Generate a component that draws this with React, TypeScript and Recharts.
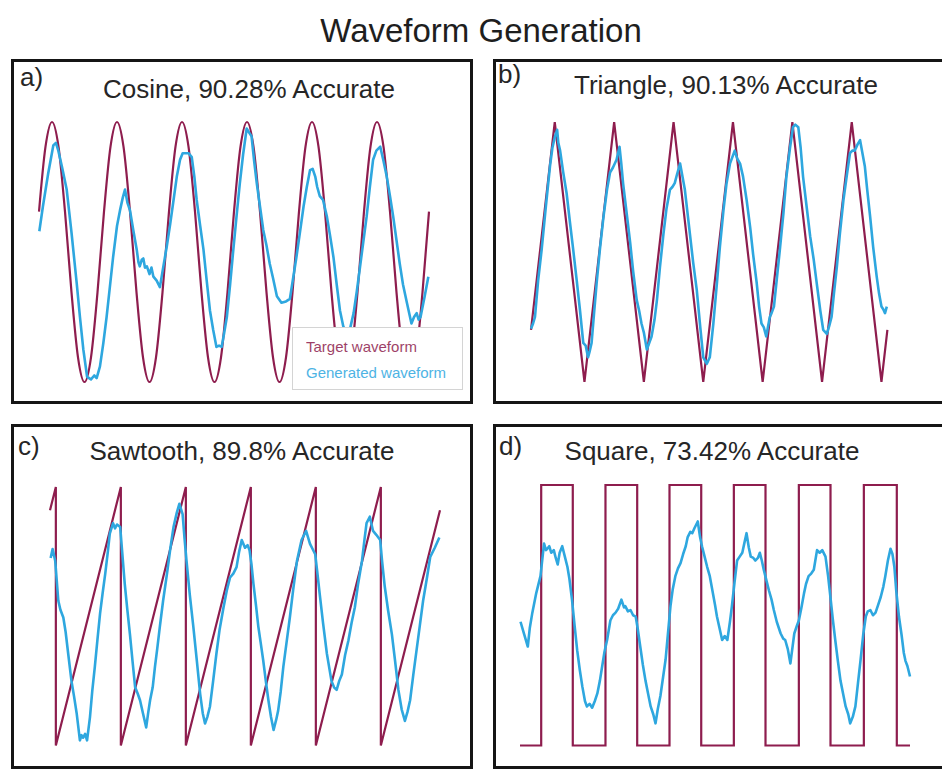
import React from 'react';
import { LineChart, Line, XAxis, YAxis, Legend } from 'recharts';

// ---- colours ----
const TARGET_COLOR = '#8e1d4e';
const GENERATED_COLOR = '#2ea7df';
const FONT = '"Liberation Sans", Arial, Helvetica, sans-serif';

// ---- text ----
const MAIN_TITLE = 'Waveform Generation';
const PANEL_LETTERS = ['a)', 'b)', 'c)', 'd)'];
const PANEL_TITLES = [
  'Cosine, 90.28% Accurate',
  'Triangle, 90.13% Accurate',
  'Sawtooth, 89.8% Accurate',
  'Square, 73.42% Accurate',
];
const SERIES_NAMES = ['Target waveform', 'Generated waveform'];

// ---- a) cosine: target sampled at t = 0..60 (10 samples per period) ----
const COSINE_TARGET = [
  0.31, 0.81, 1, 0.81, 0.31, -0.31, -0.81, -1, -0.81, -0.31,
  0.31, 0.81, 1, 0.81, 0.31, -0.31, -0.81, -1, -0.81, -0.31,
  0.31, 0.81, 1, 0.81, 0.31, -0.31, -0.81, -1, -0.81, -0.31,
  0.31, 0.81, 1, 0.81, 0.31, -0.31, -0.81, -1, -0.81, -0.31,
  0.31, 0.81, 1, 0.81, 0.31, -0.31, -0.81, -1, -0.81, -0.31,
  0.31, 0.81, 1, 0.81, 0.31, -0.31, -0.81, -1, -0.81, -0.31,
  0.31,
];

const COSINE_GENERATED: [number, number][] = [
  [0.05, 0.16], [0.6, 0.35], [1.4, 0.6], [2.2, 0.82], [2.6, 0.84], [2.97, 0.78], [3.6, 0.64],
  [4.26, 0.48], [5.0, 0.15], [5.8, -0.24], [6.3, -0.5], [6.82, -0.75], [7.4, -0.96], [8.0, -0.98],
  [8.5, -0.95], [8.87, -0.97], [9.38, -0.88], [9.9, -0.7], [10.4, -0.5], [10.9, -0.27], [11.4, -0.04],
  [12.0, 0.2], [12.46, 0.32], [12.9, 0.42], [13.23, 0.48], [13.6, 0.38], [14.0, 0.32], [14.5, 0.17],
  [15.03, 0.02], [15.3, -0.08], [15.5, -0.11], [15.8, -0.06], [16.05, -0.05], [16.3, -0.12],
  [16.6, -0.11], [17.0, -0.17], [17.3, -0.12], [17.6, -0.19], [18.1, -0.22], [18.6, -0.27],
  [19.1, -0.12], [19.65, 0.04], [20.2, 0.22], [20.7, 0.4], [21.2, 0.58], [21.7, 0.71], [22.1, 0.76],
  [22.46, 0.76], [23.0, 0.76], [23.5, 0.73], [23.9, 0.58], [24.26, 0.4], [24.8, 0.2], [25.3, 0.02],
  [25.8, -0.22], [26.3, -0.45], [26.8, -0.6], [27.3, -0.73], [27.7, -0.72], [28.1, -0.73],
  [28.5, -0.62], [28.9, -0.5], [29.4, -0.25], [29.9, 0.02], [30.4, 0.28], [30.9, 0.53], [31.4, 0.75],
  [31.95, 0.95], [32.3, 0.92], [32.7, 0.89], [33.1, 0.7], [33.5, 0.53], [34.0, 0.35], [34.5, 0.17],
  [35.0, 0.05], [35.5, -0.09], [36.0, -0.2], [36.6, -0.34], [37.3, -0.39], [38.0, -0.38],
  [38.6, -0.36], [39.1, -0.2], [39.6, -0.04], [40.2, 0.17], [40.7, 0.35], [41.2, 0.5], [41.7, 0.63],
  [42.1, 0.64], [42.5, 0.58], [42.8, 0.5], [43.2, 0.43], [43.7, 0.4], [44.3, 0.27], [44.8, 0.12],
  [45.3, -0.04], [45.8, -0.25], [46.3, -0.45], [46.8, -0.57], [47.3, -0.63], [47.9, -0.58],
  [48.4, -0.47], [48.9, -0.3], [49.4, -0.11], [49.9, 0.08], [50.4, 0.27], [50.9, 0.5], [51.4, 0.71],
  [51.9, 0.78], [52.5, 0.81], [53.0, 0.7], [53.5, 0.58], [54.0, 0.43], [54.5, 0.27], [55.0, 0.09],
  [55.5, -0.09], [56.0, -0.25], [56.6, -0.39], [57.3, -0.55], [57.7, -0.5], [58.1, -0.47],
  [58.4, -0.52], [58.7, -0.5], [59.3, -0.35], [59.9, -0.19],
];

// ---- b) triangle ----
const TRIANGLE_TARGET: [number, number][] = [
  [0, -0.6], [4, 1], [9, -1], [14, 1], [19, -1], [24, 1], [29, -1],
  [34, 1], [39, -1], [44, 1], [49, -1], [54, 1], [59, -1], [60, -0.6],
];

const TRIANGLE_GENERATED: [number, number][] = [
  [0, -0.59], [0.35, -0.55], [0.67, -0.5], [1.2, -0.22], [1.8, 0.02], [2.5, 0.35], [3.2, 0.66],
  [3.6, 0.8], [4.04, 0.89], [4.4, 0.94], [4.6, 0.84], [4.9, 0.78], [5.4, 0.62], [6.0, 0.45],
  [6.5, 0.25], [7.1, 0.02], [7.7, -0.22], [8.25, -0.45], [8.8, -0.7], [9.2, -0.72], [9.6, -0.81],
  [9.9, -0.76], [10.2, -0.7], [10.6, -0.48], [11.05, -0.24], [11.6, 0.02], [12.2, 0.27], [12.8, 0.48],
  [13.3, 0.61], [13.8, 0.65], [14.4, 0.71], [14.9, 0.81], [15.2, 0.68], [15.5, 0.53], [16.1, 0.3],
  [16.7, 0.07], [17.2, -0.15], [17.8, -0.37], [18.2, -0.45], [18.6, -0.55], [19.0, -0.62],
  [19.5, -0.75], [19.9, -0.7], [20.3, -0.65], [20.8, -0.52], [21.2, -0.37], [21.7, -0.12],
  [22.3, 0.14], [22.8, 0.33], [23.4, 0.48], [23.8, 0.5], [24.2, 0.53], [24.6, 0.6], [25.1, 0.68],
  [25.5, 0.58], [25.9, 0.48], [26.3, 0.32], [26.8, 0.12], [27.3, -0.08], [27.9, -0.29],
  [28.5, -0.58], [29.0, -0.81], [29.6, -0.86], [30.1, -0.81], [30.7, -0.55], [31.3, -0.24],
  [31.8, 0.04], [32.4, 0.32], [32.9, 0.52], [33.5, 0.68], [34.3, 0.78], [34.7, 0.72], [35.2, 0.68],
  [35.7, 0.58], [36.3, 0.4], [36.9, 0.19], [37.4, -0.02], [38.0, -0.24], [38.4, -0.42],
  [38.8, -0.55], [39.2, -0.58], [39.6, -0.65], [40.2, -0.5], [40.5, -0.47], [40.9, -0.42],
  [41.4, -0.2], [41.9, 0.02], [42.5, 0.3], [43.0, 0.58], [43.6, 0.8], [44.1, 0.96], [44.5, 0.98],
  [45.0, 0.96], [45.4, 0.8], [45.8, 0.58], [46.4, 0.35], [47.0, 0.12], [47.6, -0.06], [48.1, -0.24],
  [48.7, -0.45], [49.2, -0.6], [49.8, -0.63], [50.2, -0.57], [50.6, -0.5], [51.0, -0.32],
  [51.5, -0.11], [52.0, 0.14], [52.6, 0.4], [53.2, 0.6], [53.7, 0.76], [54.1, 0.78], [54.5, 0.78],
  [55.0, 0.83], [55.4, 0.86], [55.8, 0.76], [56.2, 0.66], [56.6, 0.48], [57.1, 0.27], [57.6, 0.04],
  [58.2, -0.19], [58.6, -0.32], [59.0, -0.42], [59.3, -0.44], [59.6, -0.47], [59.9, -0.42],
];

// ---- c) sawtooth ----
const SAWTOOTH_TARGET: [number, number][] = [
  [0, 0.82], [0.9, 1], [0.9, -1], [10.9, 1], [10.9, -1], [20.9, 1], [20.9, -1],
  [30.9, 1], [30.9, -1], [40.9, 1], [40.9, -1], [50.9, 1], [50.9, -1], [60, 0.82],
];

const SAWTOOTH_GENERATED: [number, number][] = [
  [0.1, 0.45], [0.4, 0.52], [0.8, 0.43], [1.28, 0.12], [1.6, 0.05], [2.05, -0.01], [2.4, -0.12],
  [2.8, -0.29], [3.3, -0.5], [3.7, -0.62], [4.1, -0.75], [4.6, -0.96], [4.85, -0.92], [5.1, -0.94],
  [5.4, -0.91], [5.7, -0.96], [6.15, -0.78], [6.5, -0.58], [6.9, -0.39], [7.3, -0.18], [7.7, 0.02],
  [8.1, 0.18], [8.5, 0.33], [8.9, 0.5], [9.2, 0.64], [9.7, 0.72], [10.0, 0.68], [10.3, 0.71],
  [10.8, 0.69], [11.1, 0.5], [11.5, 0.25], [11.9, 0.05], [12.3, -0.14], [12.7, -0.35], [13.1, -0.55],
  [13.5, -0.6], [13.85, -0.65], [14.3, -0.75], [14.8, -0.86], [15.1, -0.75], [15.4, -0.65],
  [15.8, -0.55], [16.15, -0.39], [16.5, -0.25], [16.9, -0.08], [17.4, 0.12], [18.0, 0.33],
  [18.5, 0.52], [19.0, 0.69], [19.5, 0.8], [19.9, 0.87], [20.4, 0.79], [20.7, 0.6], [21.0, 0.43],
  [21.5, 0.17], [22.05, -0.08], [22.6, -0.35], [23.1, -0.6], [23.5, -0.75], [23.85, -0.83],
  [24.2, -0.78], [24.6, -0.7], [25.1, -0.5], [25.6, -0.29], [26.1, -0.1], [26.7, 0.07], [27.2, 0.2],
  [27.7, 0.3], [28.2, 0.33], [28.7, 0.38], [29.1, 0.5], [29.5, 0.59], [30.0, 0.53], [30.4, 0.55],
  [30.7, 0.51], [31.0, 0.4], [31.3, 0.25], [31.7, 0.08], [32.05, -0.08], [32.4, -0.2], [32.8, -0.34],
  [33.2, -0.5], [33.6, -0.65], [34.0, -0.78], [34.4, -0.88], [34.8, -0.8], [35.1, -0.73],
  [35.5, -0.58], [35.9, -0.39], [36.4, -0.2], [36.9, -0.01], [37.4, 0.2], [38.0, 0.43], [38.7, 0.59],
  [39.4, 0.66], [40.0, 0.56], [40.4, 0.52], [40.8, 0.48], [41.1, 0.35], [41.5, 0.17], [42.0, -0.05],
  [42.6, -0.29], [43.3, -0.5], [43.7, -0.55], [44.1, -0.57], [44.5, -0.5], [44.9, -0.45],
  [45.4, -0.3], [45.9, -0.19], [46.4, -0.05], [46.9, 0.07], [47.4, 0.25], [48.0, 0.43], [48.4, 0.6],
  [48.7, 0.72], [49.2, 0.77], [49.7, 0.66], [50.2, 0.63], [50.8, 0.59], [51.1, 0.42], [51.5, 0.23],
  [52.0, 0.05], [52.6, -0.14], [53.1, -0.35], [53.6, -0.57], [54.1, -0.72], [54.6, -0.81],
  [55.0, -0.74], [55.4, -0.65], [55.9, -0.45], [56.4, -0.26], [56.9, -0.07], [57.4, 0.12],
  [58.0, 0.3], [58.5, 0.46], [59.2, 0.53], [59.9, 0.61],
];

// ---- d) square ----
const SQUARE_TARGET: [number, number][] = [
  [0, -1], [3.26, -1], [3.26, 1], [8.12, 1], [8.12, -1], [13.15, -1], [13.15, 1], [18.03, 1],
  [18.03, -1], [23.0, -1], [23.0, 1], [27.88, 1], [27.88, -1], [32.9, -1], [32.9, 1], [37.77, 1],
  [37.77, -1], [42.9, -1], [42.9, 1], [47.77, 1], [47.77, -1], [52.9, -1], [52.9, 1], [57.97, 1],
  [57.97, -1], [60, -1],
];

const SQUARE_GENERATED: [number, number][] = [
  [0.08, -0.05], [0.6, -0.14], [1.2, -0.24], [1.5, -0.1], [1.9, 0.02], [2.5, 0.17], [3.15, 0.3],
  [3.7, 0.55], [4.0, 0.5], [4.2, 0.51], [4.5, 0.53], [4.8, 0.48], [5.2, 0.5], [5.5, 0.44],
  [5.8, 0.39], [6.1, 0.48], [6.5, 0.53], [6.9, 0.45], [7.3, 0.37], [7.6, 0.28], [8.0, 0.12],
  [8.4, -0.08], [8.8, -0.27], [9.2, -0.42], [9.6, -0.55], [10.0, -0.66], [10.3, -0.7], [10.7, -0.68],
  [11.1, -0.71], [11.5, -0.66], [11.9, -0.6], [12.3, -0.5], [12.65, -0.39], [13.0, -0.28],
  [13.4, -0.19], [13.9, -0.04], [14.3, 0.0], [14.7, 0.02], [15.1, 0.05], [15.6, 0.12], [16.0, 0.06],
  [16.2, 0.07], [16.6, 0.03], [17.0, 0.04], [17.4, 0.0], [17.8, -0.01], [18.1, -0.1], [18.5, -0.24],
  [18.9, -0.38], [19.3, -0.5], [19.7, -0.6], [20.1, -0.7], [20.5, -0.76], [20.85, -0.83],
  [21.2, -0.72], [21.6, -0.62], [22.0, -0.48], [22.4, -0.34], [22.8, -0.12], [23.15, 0.07],
  [23.5, 0.2], [23.9, 0.3], [24.3, 0.36], [24.7, 0.4], [25.1, 0.47], [25.5, 0.53], [25.8, 0.6],
  [26.2, 0.64], [26.5, 0.63], [26.85, 0.67], [27.35, 0.72], [27.7, 0.6], [28.0, 0.53], [28.4, 0.45],
  [28.8, 0.37], [29.2, 0.3], [29.6, 0.19], [30.0, 0.08], [30.3, -0.01], [30.7, -0.1], [31.1, -0.19],
  [31.5, -0.16], [31.9, -0.19], [32.3, -0.05], [32.6, 0.07], [33.0, 0.25], [33.4, 0.42],
  [33.8, 0.45], [34.2, 0.48], [34.5, 0.55], [34.85, 0.63], [35.2, 0.52], [35.5, 0.45], [35.9, 0.44],
  [36.2, 0.42], [36.6, 0.44], [36.9, 0.48], [37.2, 0.42], [37.5, 0.35], [37.9, 0.27], [38.3, 0.19],
  [38.7, 0.12], [39.05, 0.04], [39.5, -0.05], [40.1, -0.14], [40.5, -0.18], [40.8, -0.19],
  [41.2, -0.26], [41.6, -0.37], [42.2, -0.14], [42.6, -0.08], [42.9, -0.04], [43.3, 0.06],
  [43.7, 0.17], [44.0, 0.24], [44.4, 0.3], [44.8, 0.32], [45.2, 0.35], [45.7, 0.5], [46.1, 0.48],
  [46.5, 0.5], [47.0, 0.45], [47.4, 0.3], [47.8, 0.12], [48.1, -0.02], [48.5, -0.19], [48.9, -0.35],
  [49.3, -0.5], [49.7, -0.6], [50.1, -0.7], [50.5, -0.76], [50.8, -0.83], [51.2, -0.78],
  [51.6, -0.7], [52.0, -0.52], [52.4, -0.34], [52.8, -0.15], [53.2, -0.01], [53.5, 0.03],
  [53.9, 0.04], [54.3, 0.0], [54.7, 0.02], [55.1, 0.08], [55.5, 0.14], [55.9, 0.22], [56.2, 0.3],
  [56.6, 0.42], [57.0, 0.51], [57.3, 0.47], [57.6, 0.37], [57.9, 0.18], [58.3, -0.01],
  [58.7, -0.15], [59.05, -0.29], [59.3, -0.35], [59.6, -0.39], [59.8, -0.43], [60.0, -0.47],
];

type Pt = { t: number; v: number };
const fromPairs = (pairs: [number, number][]): Pt[] => pairs.map(([t, v]) => ({ t, v }));
const fromSamples = (vals: number[]): Pt[] => vals.map((v, t) => ({ t, v }));

// ---- layout (page pixels) ----
const PAD = 6;
type PanelLayout = {
  box: { left: number; top: number; width: number; height: number };
  plot: { x0: number; x1: number; y0: number; y1: number };
  letter: { left: number; baseline: number };
  title: { cx: number; baseline: number };
};

const LAYOUT: PanelLayout[] = [
  {
    box: { left: 11, top: 59, width: 462, height: 345 },
    plot: { x0: 39, x1: 429, y0: 122, y1: 382 },
    letter: { left: 20, baseline: 86 },
    title: { cx: 249, baseline: 98 },
  },
  {
    box: { left: 493, top: 59, width: 460, height: 345 },
    plot: { x0: 531, x1: 887.4, y0: 122, y1: 382 },
    letter: { left: 498, baseline: 83 },
    title: { cx: 726, baseline: 94 },
  },
  {
    box: { left: 11, top: 424, width: 462, height: 345 },
    plot: { x0: 50, x1: 440, y0: 486.5, y1: 745 },
    letter: { left: 18, baseline: 455 },
    title: { cx: 242, baseline: 460 },
  },
  {
    box: { left: 493, top: 424, width: 460, height: 345 },
    plot: { x0: 519.5, x1: 909.5, y0: 485, y1: 745.5 },
    letter: { left: 499, baseline: 455 },
    title: { cx: 712, baseline: 460 },
  },
];

const SERIES: { target: Pt[]; generated: Pt[]; smoothTarget: boolean }[] = [
  { target: fromSamples(COSINE_TARGET), generated: fromPairs(COSINE_GENERATED), smoothTarget: true },
  { target: fromPairs(TRIANGLE_TARGET), generated: fromPairs(TRIANGLE_GENERATED), smoothTarget: false },
  { target: fromPairs(SAWTOOTH_TARGET), generated: fromPairs(SAWTOOTH_GENERATED), smoothTarget: false },
  { target: fromPairs(SQUARE_TARGET), generated: fromPairs(SQUARE_GENERATED), smoothTarget: false },
];

// Places text so its baseline lands at the given y.
const BaselineText: React.FC<{
  text: string;
  size: number;
  baseline: number;
  left?: number;
  cx?: number;
  color?: string;
}> = ({ text, size, baseline, left, cx, color = '#262626' }) => {
  const top = baseline - 0.8465 * size;
  const style: React.CSSProperties = {
    position: 'absolute',
    top,
    fontFamily: FONT,
    fontSize: size,
    lineHeight: `${size}px`,
    color,
    whiteSpace: 'nowrap',
  };
  if (cx !== undefined) {
    style.left = cx - 300;
    style.width = 600;
    style.textAlign = 'center';
  } else {
    style.left = left;
  }
  return <div style={style}>{text}</div>;
};

// Legend box: series names written in their own colours, target first.
const LegendBox: React.FC = () => {
  const items = [
    { label: SERIES_NAMES[0], color: TARGET_COLOR },
    { label: SERIES_NAMES[1], color: GENERATED_COLOR },
  ];
  return (
    <div
      style={{
        boxSizing: 'border-box',
        width: 171,
        height: 63,
        background: '#ffffff',
        border: '1px solid #d4d4d4',
        padding: '6px 0 0 13px',
        fontFamily: FONT,
        fontSize: 15,
        lineHeight: '26px',
      }}
    >
      {items.map((it) => (
        <div key={it.label} style={{ color: it.color, opacity: 0.85 }}>
          {it.label}
        </div>
      ))}
    </div>
  );
};

const Panel: React.FC<{ index: number }> = ({ index }) => {
  const { plot } = LAYOUT[index];
  const { target, generated, smoothTarget } = SERIES[index];
  const left = plot.x0 - PAD;
  const top = plot.y0 - PAD;
  const width = plot.x1 - plot.x0 + 2 * PAD;
  const height = plot.y1 - plot.y0 + 2 * PAD;
  return (
    <div style={{ position: 'absolute', left, top, width, height }}>
      <LineChart width={width} height={height} margin={{ top: PAD, right: PAD, bottom: PAD, left: PAD }}>
        <XAxis type="number" dataKey="t" domain={[0, 60]} hide />
        <YAxis type="number" domain={[-1, 1]} hide />
        <Line
          data={target}
          dataKey="v"
          name={SERIES_NAMES[0]}
          type={smoothTarget ? 'monotone' : 'linear'}
          stroke={TARGET_COLOR}
          strokeWidth={2.2}
          dot={false}
          activeDot={false}
          isAnimationActive={false}
        />
        <Line
          data={generated}
          dataKey="v"
          name={SERIES_NAMES[1]}
          type="linear"
          stroke={GENERATED_COLOR}
          strokeWidth={2.6}
          strokeLinejoin="round"
          dot={false}
          activeDot={false}
          isAnimationActive={false}
        />
        {index === 0 && (
          <Legend
            layout="vertical"
            align="center"
            verticalAlign="middle"
            wrapperStyle={{ left: 292 - left, top: 327 - top, width: 171, height: 63 }}
            content={() => <LegendBox />}
          />
        )}
      </LineChart>
    </div>
  );
};

export default function App() {
  return (
    <div
      style={{
        position: 'absolute',
        left: 0,
        top: 0,
        width: 942,
        height: 769,
        overflow: 'hidden',
        background: '#ffffff',
      }}
    >
      <BaselineText text={MAIN_TITLE} size={33} baseline={42} cx={481} color="#1e1e1e" />
      {LAYOUT.map((p, i) => (
        <div
          key={`box-${i}`}
          style={{
            position: 'absolute',
            left: p.box.left,
            top: p.box.top,
            width: p.box.width,
            height: p.box.height,
            boxSizing: 'border-box',
            border: '3px solid #151515',
          }}
        />
      ))}
      {LAYOUT.map((_, i) => (
        <Panel key={`panel-${i}`} index={i} />
      ))}
      {LAYOUT.map((p, i) => (
        <React.Fragment key={`txt-${i}`}>
          <BaselineText text={PANEL_LETTERS[i]} size={26} baseline={p.letter.baseline} left={p.letter.left} />
          <BaselineText text={PANEL_TITLES[i]} size={26} baseline={p.title.baseline} cx={p.title.cx} />
        </React.Fragment>
      ))}
    </div>
  );
}
